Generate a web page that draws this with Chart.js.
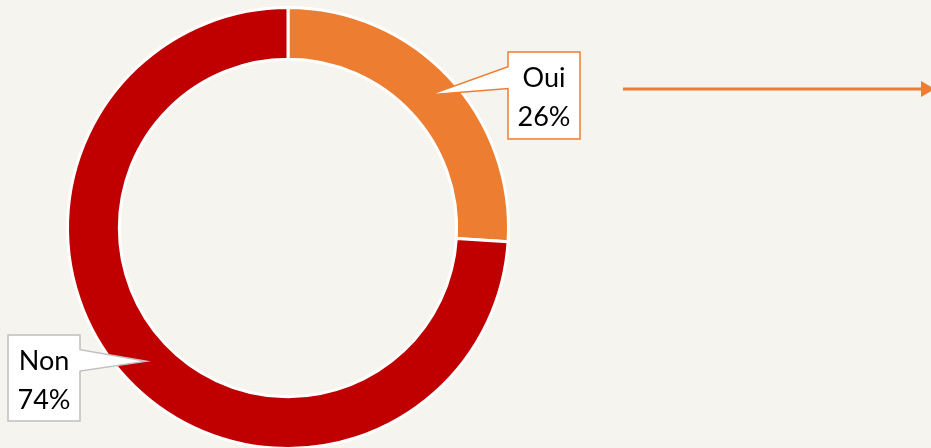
<!DOCTYPE html>
<html>
<head>
<meta charset="utf-8">
<script src="https://cdn.jsdelivr.net/npm/chart.js@4/dist/chart.umd.min.js"></script>
<style>
  html, body { margin: 0; padding: 0; background: #f5f4ee; overflow: hidden; }
  #wrap { position: relative; width: 931px; height: 460px; }
</style>
</head>
<body>
<div id="wrap"><canvas id="donut" width="931" height="460"></canvas></div>
<script>
// Reponses Oui / Non en pourcentage
const labels = ['Oui', 'Non'];
const values = [26, 74];
const sliceColors = ['#ed7d31', '#c00000'];
const calloutBorders = ['#ed7d31', '#bfbfbf'];

// boites des etiquettes : x, y, largeur, hauteur
const calloutBoxes = [
  { x: 508, y: 52, w: 72, h: 87 },
  { x: 8, y: 335, w: 72, h: 86 }
];

const calloutPlugin = {
  id: 'calloutPlugin',
  afterDraw(chart) {
    const ctx = chart.ctx;
    const meta = chart.getDatasetMeta(0);
    ctx.save();

    meta.data.forEach((arc, i) => {
      const box = calloutBoxes[i];
      const tip = arc.tooltipPosition();
      const onLeft = tip.x > box.x + box.w;
      const edgeX = onLeft ? box.x + box.w : box.x;
      const y1 = box.y + box.h * 0.17;
      const y2 = box.y + box.h * 0.42;

      // bulle : boite + pointe vers la part
      ctx.beginPath();
      ctx.moveTo(box.x, box.y);
      ctx.lineTo(box.x + box.w, box.y);
      if (onLeft) {
        ctx.lineTo(edgeX, y1);
        ctx.lineTo(tip.x, tip.y);
        ctx.lineTo(edgeX, y2);
        ctx.lineTo(box.x + box.w, box.y + box.h);
        ctx.lineTo(box.x, box.y + box.h);
      } else {
        ctx.lineTo(box.x + box.w, box.y + box.h);
        ctx.lineTo(box.x, box.y + box.h);
        ctx.lineTo(edgeX, y2);
        ctx.lineTo(tip.x, tip.y);
        ctx.lineTo(edgeX, y1);
      }
      ctx.closePath();
      ctx.fillStyle = '#ffffff';
      ctx.fill();
      ctx.lineWidth = 1.5;
      ctx.strokeStyle = calloutBorders[i];
      ctx.stroke();

      ctx.fillStyle = '#000000';
      ctx.font = '27px Lato, "Open Sans", sans-serif';
      ctx.textAlign = 'center';
      ctx.textBaseline = 'alphabetic';
      const cx = box.x + box.w / 2;
      ctx.fillText(labels[i], cx, box.y + 35);
      ctx.fillText(values[i] + '%', cx, box.y + 74);
    });

    // fleche vers la droite
    ctx.strokeStyle = '#ed7d31';
    ctx.fillStyle = '#ed7d31';
    ctx.lineWidth = 3;
    ctx.beginPath();
    ctx.moveTo(623, 89);
    ctx.lineTo(922, 89);
    ctx.stroke();
    ctx.beginPath();
    ctx.moveTo(921, 81);
    ctx.lineTo(935, 89);
    ctx.lineTo(921, 97);
    ctx.closePath();
    ctx.fill();

    ctx.restore();
  }
};

new Chart(document.getElementById('donut'), {
  type: 'doughnut',
  data: {
    labels: labels,
    datasets: [{
      data: values,
      backgroundColor: sliceColors,
      borderColor: '#ffffff',
      borderWidth: 3
    }]
  },
  options: {
    responsive: false,
    animation: false,
    cutout: '76.5%',
    layout: { padding: { left: 66, right: 421, top: 6, bottom: 10 } },
    plugins: {
      legend: { display: false },
      tooltip: { enabled: false }
    }
  },
  plugins: [calloutPlugin]
});
</script>
</body>
</html>
